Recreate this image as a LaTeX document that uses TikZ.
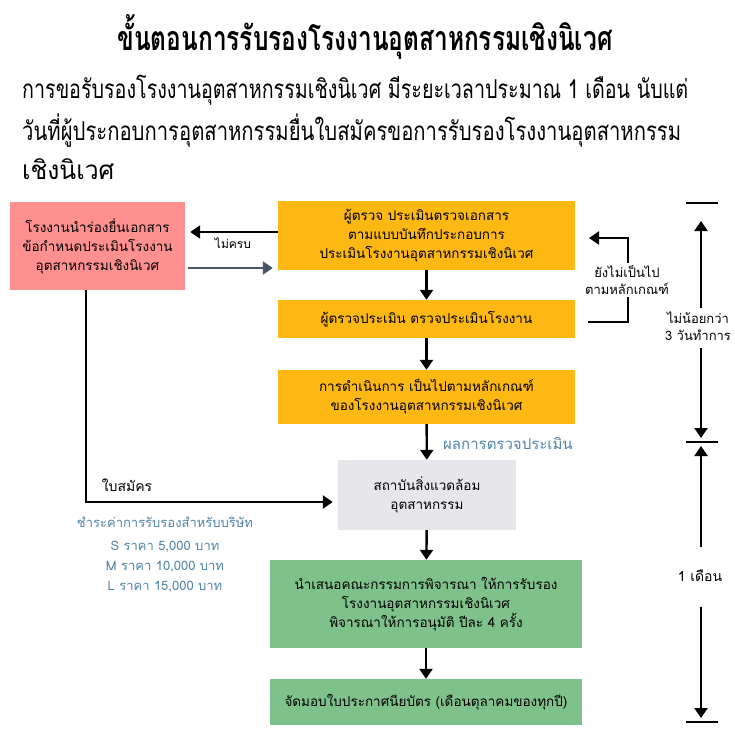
\documentclass[tikz,border=0pt]{standalone}
\usepackage{fontspec}
\usepackage{graphicx}
\setmainfont[Script=Thai]{Loma}
\usetikzlibrary{arrows.meta}
\definecolor{pinkbox}{HTML}{FF9090}
\definecolor{yellowbox}{HTML}{FDB813}
\definecolor{greybox}{HTML}{E7E6EB}
\definecolor{greenbox}{HTML}{7FC18B}
\definecolor{bluetxt}{HTML}{4F84A8}
\definecolor{greyarr}{HTML}{4B5563}
\tikzset{
  box/.style={inner sep=0pt, align=center, font=\fontsize{13.5}{19}\selectfont},
  arr/.style={line width=2.4pt, -{Triangle[width=13pt,length=10pt]}},
  bar/.style={line width=1.8pt},
  lbl/.style={inner sep=1pt, align=center, font=\fontsize{13}{17}\selectfont},
  head/.style={anchor=west, inner sep=0pt, font=\fontsize{26}{30}\selectfont},
}
\begin{document}
\begin{tikzpicture}[x=1pt,y=-1pt]
\useasboundingbox (0,0) rectangle (735,736);
% title and header
\node[inner sep=0pt] (title) at (365,37) {\resizebox{495pt}{\height}{\fontsize{34}{38}\selectfont\bfseries ขั้นตอนการรับรองโรงงานอุตสาหกรรมเชิงนิเวศ}};
\node[head] (h1) at (22,90) {\resizebox{666pt}{\height}{การขอรับรองโรงงานอุตสาหกรรมเชิงนิเวศ มีระยะเวลาประมาณ 1 เดือน นับแต่}};
\node[head] (h2) at (22,131) {\resizebox{659pt}{\height}{วันที่ผู้ประกอบการอุตสาหกรรมยื่นใบสมัครขอการรับรองโรงงานอุตสาหกรรม}};
\node[head] (h3) at (22,169) {\scalebox{0.95}[1]{เชิงนิเวศ}};
% boxes
\node[box, fill=pinkbox, minimum width=175pt, minimum height=88pt] (pink) at (97.5,246) {โรงงานนำร่องยื่นเอกสาร\\ข้อกำหนดประเมินโรงงาน\\อุตสาหกรรมเชิงนิเวศ};
\node[box, fill=yellowbox, minimum width=297pt, minimum height=69pt] (y1) at (426.5,235.5) {ผู้ตรวจ ประเมินตรวจเอกสาร\\ตามแบบบันทึกประกอบการ\\ประเมินโรงงานอุตสาหกรรมเชิงนิเวศ};
\node[box, fill=yellowbox, minimum width=297pt, minimum height=38pt] (y2) at (426.5,319) {ผู้ตรวจประเมิน ตรวจประเมินโรงงาน};
\node[box, fill=yellowbox, minimum width=297pt, minimum height=54pt] (y3) at (426.5,397) {การดำเนินการ เป็นไปตามหลักเกณฑ์\\ของโรงงานอุตสาหกรรมเชิงนิเวศ};
\node[box, fill=greybox, minimum width=178pt, minimum height=70pt] (grey) at (427,495) {สถาบันสิ่งแวดล้อม\\อุตสาหกรรม};
\node[box, fill=greenbox, minimum width=312pt, minimum height=88pt] (g1) at (426,604) {นำเสนอคณะกรรมการพิจารณา ให้การรับรอง\\โรงงานอุตสาหกรรมเชิงนิเวศ\\พิจารณาให้การอนุมัติ ปีละ 4 ครั้ง};
\node[box, fill=greenbox, minimum width=312pt, minimum height=46pt] (g2) at (426,702) {จัดมอบใบประกาศนียบัตร (เดือนตุลาคมของทุกปี)};
% main flow
\draw[arr] (y1) -- (y2);
\draw[arr] (y2) -- (y3);
\draw[arr] (y3) -- (grey);
\draw[arr] (grey) -- (g1);
\draw[arr] (g1) -- (g2);
\node[lbl, text=bluetxt, font=\fontsize{15}{18}\selectfont, anchor=west] (res) at (442,444) {ผลการตรวจประเมิน};
% back to pink
\coordinate (ka) at ([yshift=3.5pt]y1.west);
\coordinate (kb) at ([yshift=-22pt]pink.east);
\draw[arr, shorten >=5pt] (ka) -- (pink.east |- ka);
\draw[arr, greyarr, shorten <=3pt, shorten >=5pt] (kb) -- (y1.west |- kb);
\node[lbl, font=\fontsize{12}{15}\selectfont] (nc) at (233,243) {ไม่ครบ};
% feedback loop
\coordinate (fa) at (588,322);
\coordinate (fb) at (628,322);
\coordinate (fc) at (628,238);
\coordinate (fd) at (589,238);
\draw[arr, line join=miter] (fa) -- (fb) -- (fc) -- (fd);
\node[lbl, fill=white, inner sep=2pt] (notyet) at (627,280) {ยังไม่เป็นไป\\ตามหลักเกณฑ์};
% application
\coordinate (p1) at (86,290);
\coordinate (p2) at (86,502);
\draw[arr, shorten >=5pt, line join=miter] (p1) -- (p2) -- (grey.west |- p2);
\node[lbl, font=\fontsize{14}{17}\selectfont] (app) at (127,485) {ใบสมัคร};
\node[lbl, text=bluetxt, font=\fontsize{13}{20}\selectfont] (fee) at (165,555) {ชำระค่าการรับรองสำหรับบริษัท\\[3pt] S ราคา 5,000 บาท\\ M ราคา 10,000 บาท\\ L ราคา 15,000 บาท};
% timeline
\coordinate (b1l) at (686,203); \coordinate (b1r) at (718,203);
\coordinate (b2l) at (686,442); \coordinate (b2r) at (718,442);
\coordinate (b3l) at (686,722); \coordinate (b3r) at (718,722);
\draw[bar] (b1l) -- (b1r);
\draw[bar] (b2l) -- (b2r);
\draw[bar] (b3l) -- (b3r);
\node[lbl] (t3) at (698,326) {ไม่น้อยกว่า\\3 วันทำการ};
\coordinate (u1) at (701,308); \coordinate (u2) at (701,221);
\coordinate (d1) at (701,348); \coordinate (d2) at (701,438);
\draw[arr] (u1) -- (u2);
\draw[arr] (d1) -- (d2);
\node[lbl, font=\fontsize{14}{17}\selectfont] (m1) at (700,576) {1 เดือน};
\coordinate (u3) at (701,547); \coordinate (u4) at (701,446);
\coordinate (d3) at (701,607); \coordinate (d4) at (701,718);
\draw[arr] (u3) -- (u4);
\draw[arr] (d3) -- (d4);
\end{tikzpicture}
\end{document}
